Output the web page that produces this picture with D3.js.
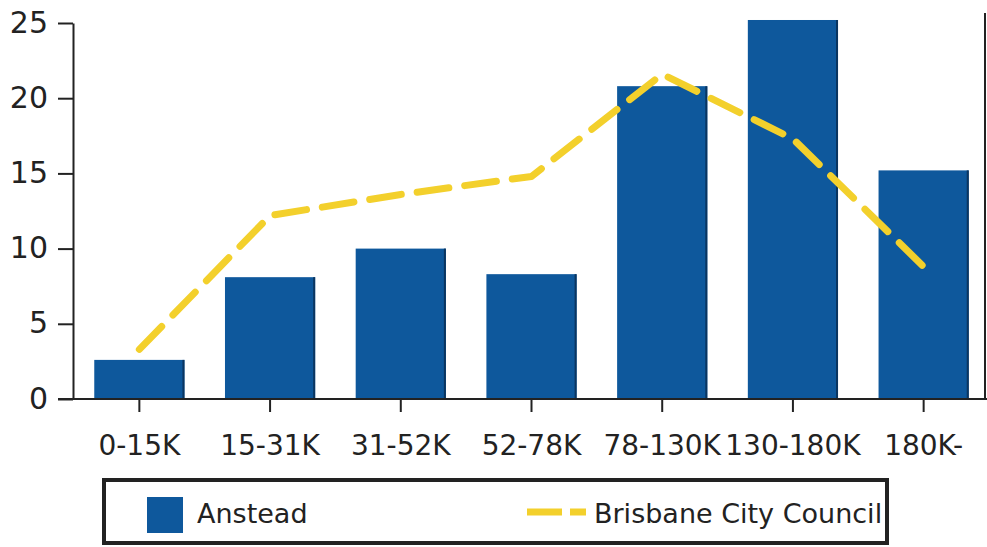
<!DOCTYPE html>
<html>
<head>
<meta charset="utf-8">
<script src="https://cdn.jsdelivr.net/npm/d3@7"></script>
<style>
  html, body { margin: 0; padding: 0; background: #fff; }
  svg { display: block; }
  text { font-family: "DejaVu Sans", Verdana, sans-serif; fill: #222; }
</style>
</head>
<body>
<svg id="chart" width="987" height="547"></svg>
<script>
const categories = ["0-15K", "15-31K", "31-52K", "52-78K", "78-130K", "130-180K", "180K-"];
const ansteadValues = [2.6, 8.1, 10.0, 8.3, 20.8, 25.2, 15.2];
const brisbaneValues = [3.3, 12.2, 13.6, 14.8, 21.6, 17.3, 8.8];
const yTicks = [0, 5, 10, 15, 20, 25];
const seriesNames = ["Anstead", "Brisbane City Council"];

const svg = d3.select("#chart");
const barColor = "#0e589c";
const lineColor = "#f3d02c";
const axisColor = "#222";

const x = d3.scaleBand().domain(categories).range([74, 989]).padding(0);
const y = d3.scaleLinear().domain([0, 25]).range([399, 23]);
const bw = x.bandwidth();
const barFrac = 0.69;

// right frame line
svg.append("line")
  .attr("x1", 985).attr("x2", 985).attr("y1", 13).attr("y2", y(0))
  .attr("stroke", axisColor).attr("stroke-width", 2);

// bars
const bars = svg.append("g");
bars.selectAll("rect")
  .data(categories)
  .enter().append("rect")
  .attr("x", (d) => x(d) + bw * (1 - barFrac) / 2)
  .attr("width", bw * barFrac)
  .attr("y", (d, i) => y(ansteadValues[i]))
  .attr("height", (d, i) => y(0) - y(ansteadValues[i]))
  .attr("fill", barColor);
bars.selectAll("line")
  .data(categories)
  .enter().append("line")
  .attr("x1", (d) => x(d) + bw * (1 + barFrac) / 2 - 1)
  .attr("x2", (d) => x(d) + bw * (1 + barFrac) / 2 - 1)
  .attr("y1", (d, i) => y(ansteadValues[i]))
  .attr("y2", y(0))
  .attr("stroke", "#0a3560").attr("stroke-width", 2);

// y axis
const yAxis = d3.axisLeft(y).tickValues(yTicks).tickSize(15).tickPadding(10).tickSizeOuter(0);
const gy = svg.append("g").attr("transform", "translate(73,0)").call(yAxis);
gy.select(".domain").attr("stroke", axisColor).attr("stroke-width", 2);
gy.selectAll(".tick line").attr("stroke", axisColor).attr("stroke-width", 2);
gy.selectAll(".tick text")
  .style("font-family", '"DejaVu Sans", Verdana, sans-serif')
  .style("font-size", "30px").attr("fill", "#222").attr("dy", "0.3em");

// x axis
const xAxis = d3.axisBottom(x).tickSize(13).tickPadding(23).tickSizeOuter(0);
const gx = svg.append("g").attr("transform", `translate(0,${y(0)})`).call(xAxis);
gx.select(".domain").attr("d", "M58,0H987").attr("stroke", axisColor).attr("stroke-width", 2);
gx.selectAll(".tick line").attr("stroke", axisColor).attr("stroke-width", 2);
gx.selectAll(".tick text")
  .style("font-family", '"DejaVu Sans", Verdana, sans-serif')
  .style("font-size", "28px").attr("fill", "#222");

// line series
const line = d3.line()
  .x((d, i) => x(categories[i]) + bw / 2)
  .y((d) => y(d));
svg.append("path")
  .datum(brisbaneValues)
  .attr("d", line)
  .attr("fill", "none")
  .attr("stroke", lineColor)
  .attr("stroke-width", 7)
  .attr("stroke-dasharray", "32 16")
  .attr("stroke-linecap", "round")
  .attr("stroke-linejoin", "round");

// legend
const lg = svg.append("g");
lg.append("rect")
  .attr("x", 104).attr("y", 480).attr("width", 783).attr("height", 63)
  .attr("fill", "#fff").attr("stroke", axisColor).attr("stroke-width", 4);
lg.append("rect")
  .attr("x", 147).attr("y", 497).attr("width", 36).attr("height", 36)
  .attr("fill", barColor);
lg.append("text")
  .attr("x", 197).attr("y", 523)
  .style("font-size", "27px")
  .text(seriesNames[0]);
lg.append("line")
  .attr("x1", 527).attr("x2", 586).attr("y1", 512).attr("y2", 512)
  .attr("stroke", lineColor).attr("stroke-width", 7)
  .attr("stroke-dasharray", "35 8 16 8");
lg.append("text")
  .attr("x", 594).attr("y", 523)
  .style("font-size", "27px")
  .text(seriesNames[1]);
</script>
</body>
</html>
